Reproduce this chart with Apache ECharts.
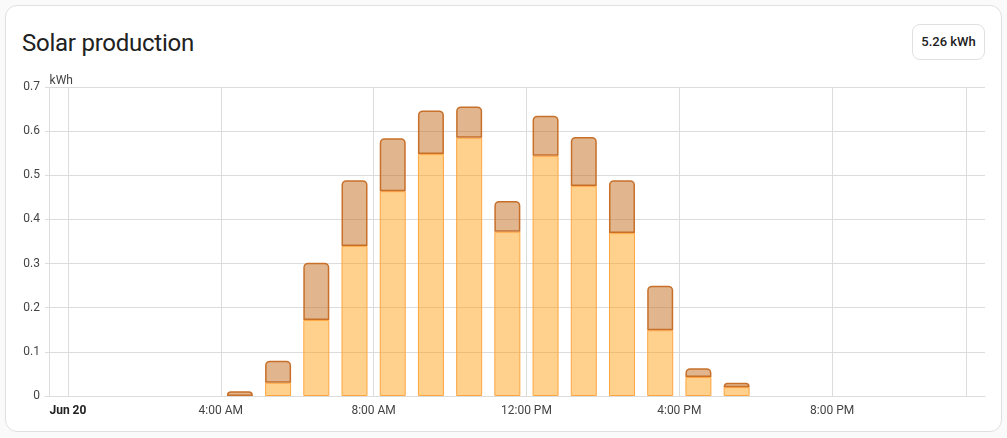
<!DOCTYPE html>
<html>
<head>
<meta charset="utf-8">
<script src="https://cdn.jsdelivr.net/npm/echarts@6/dist/echarts.min.js"></script>
<style>
  html, body { margin: 0; padding: 0; background: #fafafa; width: 1007px; height: 438px; overflow: hidden; font-family: Roboto, "Noto Sans", sans-serif; }
  #card { position: absolute; left: 5px; top: 5px; width: 995px; height: 425px; background: #fff; border: 1px solid #e0e0e0; border-radius: 12px; }
  #title { position: absolute; left: 22px; top: 29px; font-size: 24px; color: #212121; font-weight: 400; letter-spacing: -0.25px; }
  #badge { position: absolute; left: 912px; top: 24px; width: 73px; height: 36px; border: 1px solid #e0e0e0; border-radius: 8px; box-sizing: border-box; font-size: 13px; font-weight: 500; color: #212121; text-align: center; line-height: 34px; background: #fff; }
  #chart { position: absolute; left: 0; top: 0; width: 1007px; height: 438px; }
</style>
</head>
<body>
<div id="card"></div>
<div id="title">Solar production</div>
<div id="badge">5.26 kWh</div>
<div id="chart"></div>
<script>
// Hour of day at which each bar starts (Jun 20)
const hours = [4, 5, 6, 7, 8, 9, 10, 11, 12, 13, 14, 15, 16, 17];
// Lower (light orange) series, kWh (null = no bar)
const lowerValues = [null, 0.030, 0.172, 0.340, 0.464, 0.548, 0.585, 0.372, 0.544, 0.476, 0.369, 0.149, 0.043, 0.020];
// Upper (brown) series, kWh
const upperValues = [0.011, 0.050, 0.130, 0.149, 0.120, 0.099, 0.071, 0.070, 0.091, 0.111, 0.120, 0.101, 0.020, 0.010];
// X tick positions (hours) and labels
const gridHours = [-0.5, 0, 4, 8, 12, 16, 20, 23.5];
const labelHours = [0, 4, 8, 12, 16, 20];
const labelTexts = ['Jun 20', '4:00 AM', '8:00 AM', '12:00 PM', '4:00 PM', '8:00 PM'];

// Hour slots of the day (category axis for the bars)
const slots = [];
for (let h = 0; h < 24; h++) slots.push(String(h));
const lowerSlots = slots.map(() => null);
const upperSlots = slots.map(() => null);
hours.forEach((h, i) => { lowerSlots[h] = lowerValues[i]; upperSlots[h] = upperValues[i]; });

const X_MIN = -0.6, X_MAX = 24;
const GRID_L = 45, GRID_R = 22, GRID_T = 87, GRID_B = 42;
const plotW = 1007 - GRID_L - GRID_R;
const barGridLeft = GRID_L + (0 - X_MIN) / (X_MAX - X_MIN) * plotW;

const chart = echarts.init(document.getElementById('chart'));

chart.setOption({
  animation: false,
  grid: [
    { left: GRID_L, right: GRID_R, top: GRID_T, bottom: GRID_B, containLabel: false },
    { left: barGridLeft, right: GRID_R, top: GRID_T, bottom: GRID_B, containLabel: false }
  ],
  xAxis: [
    {
      gridIndex: 0,
      type: 'value',
      min: X_MIN,
      max: X_MAX,
      axisLine: { show: true, lineStyle: { color: '#dcdcdc', width: 1 } },
      axisTick: { show: false, customValues: gridHours },
      splitLine: { show: true, lineStyle: { color: '#dcdcdc', width: 1 } },
      axisLabel: {
        customValues: labelHours,
        margin: 9,
        fontSize: 12,
        color: '#444',
        fontFamily: 'Roboto',
        formatter: function (v) {
          const i = labelHours.indexOf(v);
          if (i === 0) return '{b|' + labelTexts[0] + '}';
          return i >= 0 ? labelTexts[i] : '';
        },
        rich: { b: { fontWeight: 'bold', color: '#212121', fontSize: 12, fontFamily: 'Roboto' } }
      }
    },
    {
      gridIndex: 1,
      type: 'category',
      data: slots,
      boundaryGap: true,
      show: false
    }
  ],
  yAxis: [
    {
      gridIndex: 0,
      type: 'value',
      min: 0,
      max: 0.7,
      interval: 0.1,
      name: 'kWh',
      nameLocation: 'end',
      nameGap: 0,
      nameTextStyle: { align: 'right', color: '#444', fontSize: 12, fontFamily: 'Roboto', padding: [0, -5, 0, 0] },
      axisLine: { show: false },
      axisTick: { show: false },
      splitLine: { show: true, lineStyle: { color: '#dcdcdc', width: 1 } },
      axisLabel: {
        margin: 5,
        fontSize: 12,
        color: '#444',
        fontFamily: 'Roboto',
        formatter: function (v) { return String(Math.round(v * 10) / 10); }
      }
    },
    {
      gridIndex: 1,
      type: 'value',
      min: 0,
      max: 0.7,
      show: false,
      splitLine: { show: false }
    }
  ],
  series: [
    {
      name: 'Solar',
      type: 'bar',
      xAxisIndex: 1,
      yAxisIndex: 1,
      stack: 'solar',
      barWidth: 26,
      data: lowerSlots,
      itemStyle: { color: 'rgba(255,152,0,0.45)', borderColor: '#ffa640', borderWidth: 1, borderRadius: [0, 0, 0, 0] }
    },
    {
      name: 'Solar 2',
      type: 'bar',
      xAxisIndex: 1,
      yAxisIndex: 1,
      stack: 'solar',
      barWidth: 26,
      data: upperSlots,
      itemStyle: { color: 'rgba(196,108,30,0.5)', borderColor: '#c8702a', borderWidth: 1.5, borderRadius: [4, 4, 0, 0] }
    }
  ]
});
</script>
</body>
</html>
